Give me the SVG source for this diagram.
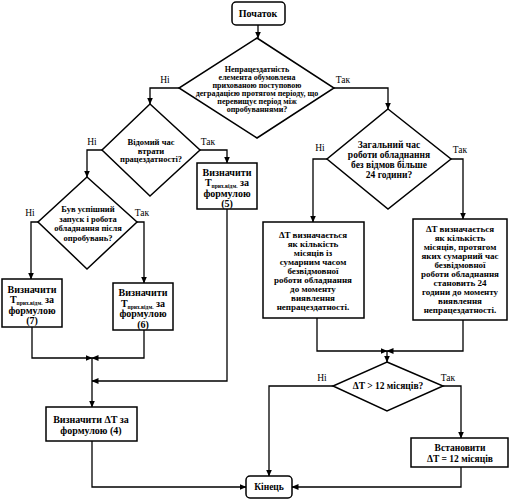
<svg xmlns="http://www.w3.org/2000/svg" width="514" height="500" viewBox="0 0 514 500">
<defs>
<marker id="ar" markerUnits="userSpaceOnUse" markerWidth="7" markerHeight="6" refX="6.5" refY="3" orient="auto"><path d="M0,0 L7,3 L0,6 z" fill="#000"/></marker>
<style>
.s{fill:#fff;stroke:#000;stroke-width:1.5}
.c{fill:none;stroke:#000;stroke-width:1.3;marker-end:url(#ar)}
.t{font-family:"Liberation Serif",serif;font-weight:bold;fill:#000;text-anchor:middle}
.l{font-family:"Liberation Serif",serif;font-size:9.5px;fill:#000;text-anchor:middle}
.sub{font-size:5.5px}
</style>
</defs>
<rect width="514" height="500" fill="#fff"/>
<g id="connectors">
<path class="c" d="M258,25 V38"/>
<path class="c" d="M179,88 H150 V104"/>
<path class="c" d="M334,88 H388 V109"/>
<path class="c" d="M102,150 H87 V177"/>
<path class="c" d="M200,150 H227 V163"/>
<path class="c" d="M38,222 H31 V279"/>
<path class="c" d="M137,222 H144 V283"/>
<path class="c" d="M32,327 V358 H92"/>
<path class="c" d="M144,330 V358 H92"/>
<path class="c" d="M92,358 V407"/>
<path class="c" d="M227,209 V381 H92"/>
<path class="c" d="M92,441 V487 H246"/>
<path class="c" d="M327,159 H313 V222"/>
<path class="c" d="M451,159 H463 V219"/>
<path class="c" d="M317,318 V351 H387"/>
<path class="c" d="M463,320 V351 H387"/>
<path class="c" d="M387,351 V362"/>
<path class="c" d="M333,386 H269 V476"/>
<path class="c" d="M443,386 H461 V438"/>
<path class="c" d="M461,467 V487 H292"/>
</g>
<g id="labels">
<text class="l" x="165" y="83">Ні</text>
<text class="l" x="343" y="83">Так</text>
<text class="l" x="92" y="145">Ні</text>
<text class="l" x="208" y="145">Так</text>
<text class="l" x="30" y="216">Ні</text>
<text class="l" x="142" y="216">Так</text>
<text class="l" x="320" y="151">Ні</text>
<text class="l" x="460" y="153">Так</text>
<text class="l" x="322" y="381">Ні</text>
<text class="l" x="448" y="381">Так</text>
</g>
<g id="start">
<rect class="s" x="232" y="2" width="53" height="23" rx="4"/>
<text class="t" x="258" y="17" font-size="10">Початок</text>
</g>
<g id="d1">
<polygon class="s" points="257,38 334,88 257,138 179,88"/>
<text class="t" x="257" font-size="8"><tspan x="257" y="72">Непрацездатність</tspan><tspan x="257" y="80">елемента обумовлена</tspan><tspan x="257" y="88">прихованою поступовою</tspan><tspan x="257" y="96">деградацією протягом періоду, що</tspan><tspan x="257" y="104">перевищує період між</tspan><tspan x="257" y="112">опробуваннями?</tspan></text>
</g>
<g id="d2">
<polygon class="s" points="150,104 200,150 150,196 102,150"/>
<text class="t" font-size="8.5"><tspan x="151" y="145">Відомий час</tspan><tspan x="151" y="153.5">втрати</tspan><tspan x="151" y="162">працездатності?</tspan></text>
</g>
<g id="box5">
<rect class="s" x="197" y="163" width="60" height="46"/>
<text class="t" font-size="10"><tspan x="227" y="175.5">Визначити</tspan><tspan x="227" y="186">T<tspan class="sub" dy="2">прих.відм.</tspan><tspan dy="-2"> за</tspan></tspan><tspan x="227" y="196.5">формулою</tspan><tspan x="227" y="207">(5)</tspan></text>
</g>
<g id="d3">
<polygon class="s" points="87,177 137,222 87,269 38,222"/>
<text class="t" font-size="8.5"><tspan x="88" y="212">Був успішний</tspan><tspan x="88" y="222">запуск і робота</tspan><tspan x="88" y="231">обладнання після</tspan><tspan x="88" y="241">опробувань?</tspan></text>
</g>
<g id="box7">
<rect class="s" x="2" y="279" width="60" height="48"/>
<text class="t" font-size="10"><tspan x="32" y="292.5">Визначити</tspan><tspan x="32" y="303">T<tspan class="sub" dy="2">прих.відм.</tspan><tspan dy="-2"> за</tspan></tspan><tspan x="32" y="313.5">формулою</tspan><tspan x="32" y="324">(7)</tspan></text>
</g>
<g id="box6">
<rect class="s" x="113" y="283" width="60" height="47"/>
<text class="t" font-size="10"><tspan x="143" y="296">Визначити</tspan><tspan x="143" y="306.5">T<tspan class="sub" dy="2">прих.відм.</tspan><tspan dy="-2"> за</tspan></tspan><tspan x="143" y="317">формулою</tspan><tspan x="143" y="327.5">(6)</tspan></text>
</g>
<g id="box4">
<rect class="s" x="46" y="407" width="91" height="34"/>
<text class="t" font-size="10"><tspan x="91" y="423">Визначити ΔT за</tspan><tspan x="91" y="434">формулою (4)</tspan></text>
</g>
<g id="d4">
<polygon class="s" points="388,109 451,159 388,209 327,159"/>
<text class="t" font-size="9.5"><tspan x="389" y="148">Загальний час</tspan><tspan x="389" y="158">роботи обладнання</tspan><tspan x="389" y="168">без відмов більше</tspan><tspan x="389" y="178">24 години?</tspan></text>
</g>
<g id="boxL">
<rect class="s" x="263" y="222" width="101" height="96"/>
<text class="t" font-size="9"><tspan x="313" y="238">ΔT визначається</tspan><tspan x="313" y="247">як кількість</tspan><tspan x="313" y="256">місяців із</tspan><tspan x="313" y="265">сумарним часом</tspan><tspan x="313" y="274">безвідмовної</tspan><tspan x="313" y="283">роботи обладнання</tspan><tspan x="313" y="292">до моменту</tspan><tspan x="313" y="301">виявлення</tspan><tspan x="313" y="310">непрацездатності.</tspan></text>
</g>
<g id="boxR">
<rect class="s" x="413" y="219" width="94" height="101"/>
<text class="t" font-size="9"><tspan x="460" y="232">ΔT визначається</tspan><tspan x="460" y="241">як кількість</tspan><tspan x="460" y="250">місяців, протягом</tspan><tspan x="460" y="259">яких сумарний час</tspan><tspan x="460" y="268">безвідмовної</tspan><tspan x="460" y="277">роботи обладнання</tspan><tspan x="460" y="286">становить 24</tspan><tspan x="460" y="295">години до моменту</tspan><tspan x="460" y="304">виявлення</tspan><tspan x="460" y="313">непрацездатності.</tspan></text>
</g>
<g id="d5">
<polygon class="s" points="387,362 443,386 387,411 333,386"/>
<text class="t" x="388" y="389" font-size="9.5">ΔT &gt; 12 місяців?</text>
</g>
<g id="boxSet">
<rect class="s" x="411" y="438" width="97" height="29"/>
<text class="t" font-size="9.5"><tspan x="460" y="451">Встановити</tspan><tspan x="460" y="462">ΔT = 12 місяців</tspan></text>
</g>
<g id="end">
<rect class="s" x="246" y="476" width="46" height="22" rx="4"/>
<text class="t" x="269" y="490" font-size="9.5">Кінець</text>
</g>
</svg>
